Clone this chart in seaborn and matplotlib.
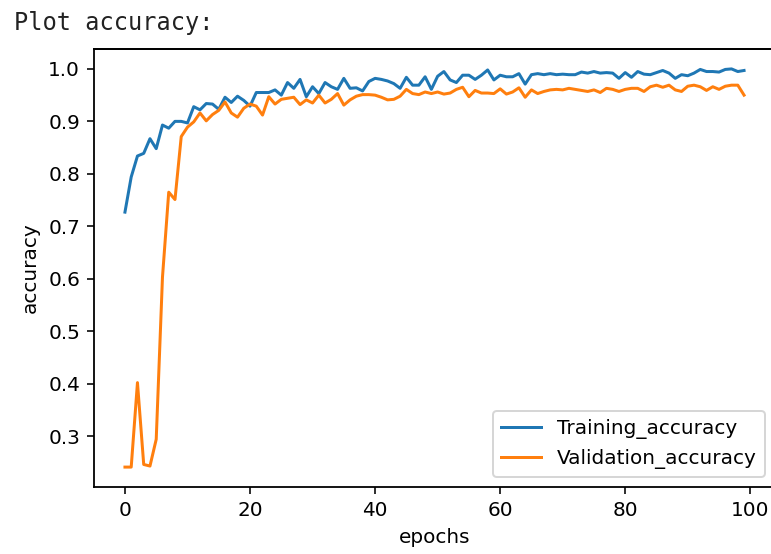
import pandas as pd
import matplotlib
matplotlib.use("Agg")
import matplotlib.pyplot as plt
import seaborn as sns

matplotlib.rcdefaults()

# accuracy per epoch
epochs = list(range(100))
train_acc = [
    0.727, 0.794, 0.834, 0.839, 0.867, 0.848, 0.893, 0.887, 0.900, 0.900,
    0.897, 0.928, 0.922, 0.934, 0.933, 0.923, 0.946, 0.936, 0.948, 0.940,
    0.929, 0.955, 0.955, 0.955, 0.960, 0.950, 0.974, 0.963, 0.980, 0.947,
    0.966, 0.953, 0.974, 0.966, 0.961, 0.982, 0.963, 0.964, 0.958, 0.976,
    0.982, 0.980, 0.977, 0.972, 0.963, 0.984, 0.969, 0.969, 0.985, 0.961,
    0.986, 0.995, 0.979, 0.974, 0.988, 0.988, 0.980, 0.988, 0.998, 0.979,
    0.988, 0.985, 0.985, 0.991, 0.971, 0.989, 0.991, 0.989, 0.991, 0.989,
    0.990, 0.989, 0.989, 0.994, 0.992, 0.995, 0.992, 0.993, 0.992, 0.982,
    0.993, 0.984, 0.995, 0.990, 0.989, 0.993, 0.997, 0.992, 0.982, 0.989,
    0.987, 0.992, 0.999, 0.995, 0.995, 0.994, 0.999, 1.000, 0.995, 0.997,
]
val_acc = [
    0.241, 0.241, 0.402, 0.246, 0.243, 0.294, 0.603, 0.765, 0.751, 0.871,
    0.889, 0.899, 0.916, 0.901, 0.913, 0.921, 0.937, 0.916, 0.908, 0.925,
    0.933, 0.929, 0.912, 0.947, 0.933, 0.942, 0.944, 0.946, 0.932, 0.941,
    0.935, 0.950, 0.935, 0.942, 0.953, 0.931, 0.941, 0.948, 0.951, 0.951,
    0.950, 0.946, 0.941, 0.942, 0.948, 0.961, 0.953, 0.951, 0.956, 0.953,
    0.956, 0.952, 0.954, 0.961, 0.965, 0.947, 0.959, 0.954, 0.954, 0.953,
    0.962, 0.952, 0.956, 0.964, 0.946, 0.960, 0.953, 0.957, 0.960, 0.961,
    0.960, 0.963, 0.961, 0.959, 0.957, 0.960, 0.955, 0.963, 0.961, 0.957,
    0.961, 0.963, 0.963, 0.957, 0.966, 0.969, 0.965, 0.969, 0.960, 0.957,
    0.967, 0.969, 0.966, 0.959, 0.966, 0.961, 0.967, 0.969, 0.969, 0.950,
]

df = pd.DataFrame({"epoch": epochs, "train": train_acc, "val": val_acc})

fig = plt.figure(figsize=(771 / 144, 554 / 144), dpi=144)

# notebook-style output line above the chart
fig.text(14 / 771, 1 - 30 / 554, "Plot accuracy:", family="DejaVu Sans Mono",
         fontsize=11.8, color="#222222", va="baseline")

# right edge of the axes runs just past the image, as in the screenshot
ax = fig.add_axes([94 / 771, 67 / 554, 681 / 771, 438 / 554])
sns.lineplot(data=df, x="epoch", y="train", ax=ax, color="#1f77b4",
             label="Training_accuracy")
sns.lineplot(data=df, x="epoch", y="val", ax=ax, color="#ff7f0e",
             label="Validation_accuracy")

for side in ["top", "right", "left", "bottom"]:
    ax.spines[side].set_visible(True)
    ax.spines[side].set_color("black")
    ax.spines[side].set_linewidth(0.9)

# top edge of the frame, drawn in axes coordinates (the spine gets dropped)
ax.plot([0, 1], [1, 1], transform=ax.transAxes, color="black", lw=0.9,
        clip_on=False, zorder=5)

ax.set_xlabel("epochs")
ax.set_ylabel("accuracy")
ax.legend(loc="lower right")

fig.savefig("out.png", dpi=144)
